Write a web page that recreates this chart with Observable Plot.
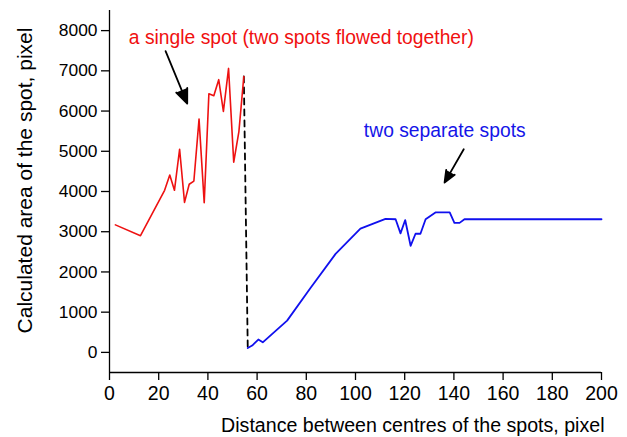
<!DOCTYPE html>
<html>
<head>
<meta charset="utf-8">
<script src="https://cdn.jsdelivr.net/npm/d3@7"></script>
<script src="https://cdn.jsdelivr.net/npm/@observablehq/plot@0.6"></script>
<style>
  html, body { margin: 0; padding: 0; background: #fff; }
</style>
</head>
<body>
<div id="chart"></div>
<script>
// Red series: a single spot (two spots flowed together)
const redX = [2.4, 12.6, 22.4, 24.5, 26.4, 28.5, 30.5, 32.4, 34.3, 36.4, 38.5, 40.4, 42.4, 44.4, 46.3, 48.4, 50.5, 52.6, 54.6];
const redY = [3170, 2900, 4030, 4410, 4030, 5050, 3730, 4180, 4260, 5800, 3720, 6430, 6380, 6780, 5990, 7060, 4730, 5490, 6860];

// Blue series: two separate spots
const blueX = [56.2, 58.0, 60.5, 62.3, 72.2, 81.7, 91.9, 102.0, 112.2, 116.3, 118.3, 120.2, 122.4, 124.4, 126.4, 128.5, 132.5, 138.3, 140.2, 142.3, 144.3, 200];
const blueY = [110, 170, 320, 250, 790, 1600, 2450, 3075, 3320, 3310, 2960, 3290, 2650, 2950, 2950, 3310, 3480, 3480, 3220, 3220, 3310, 3310];

// Dashed connector
const dashX = [54.6, 56.2];
const dashY = [6860, 110];

// Arrows
const arrowX1 = [22.8, 144.0];
const arrowY1 = [7490, 5050];
const arrowX2 = [31.6, 136.2];
const arrowY2 = [6185, 4220];

// Annotations
const noteText = ["a single spot (two spots flowed together)", "two separate spots"];
const noteX = [7.85, 103.4];
const noteY = [7830, 5511];
const noteColor = ["#f01010", "#1515e8"];

// Ticks and titles
const xTicks = [0, 20, 40, 60, 80, 100, 120, 140, 160, 180, 200];
const yTicks = [0, 1000, 2000, 3000, 4000, 5000, 6000, 7000, 8000];
const xTitle = "Distance between centres of the spots, pixel";
const yTitle = "Calculated area of the spot, pixel";

const red = redX.map((x, i) => ({x, y: redY[i]}));
const blue = blueX.map((x, i) => ({x, y: blueY[i]}));
const dash = dashX.map((x, i) => ({x, y: dashY[i]}));
const arrows = arrowX1.map((x1, i) => ({x1, y1: arrowY1[i], x2: arrowX2[i], y2: arrowY2[i]}));
const notes = noteText.map((t, i) => ({t, x: noteX[i], y: noteY[i], c: noteColor[i]}));

const chart = Plot.plot({
  width: 627,
  height: 437,
  marginLeft: 109,
  marginRight: 26,
  marginTop: 10,
  marginBottom: 65,
  style: {fontFamily: "'Liberation Sans', Arial, sans-serif", color: "#000", background: "#fff"},
  x: {domain: [0, 200]},
  y: {domain: [-500, 8500]},
  marks: [
    Plot.ruleX([0], {stroke: "#000", strokeWidth: 1.3}),
    Plot.ruleY([-500], {stroke: "#000", strokeWidth: 1.3}),
    Plot.axisX({ticks: xTicks, tickSize: 8, tickPadding: 6, fontSize: 19.5, tickFormat: d3.format("d"), label: null, strokeWidth: 1.3}),
    Plot.axisY({ticks: yTicks, tickSize: 8, tickPadding: 4, fontSize: 17.4, tickFormat: d3.format("d"), label: null, strokeWidth: 1.3}),
    Plot.text([xTitle], {frameAnchor: "bottom-right", textAnchor: "end", lineAnchor: "middle", dx: 3, dy: 53, fontSize: 19.6, fill: "#000"}),
    Plot.text([yTitle], {frameAnchor: "left", textAnchor: "middle", lineAnchor: "middle", rotate: -90, dx: -84, dy: -11, fontSize: 21, fill: "#000"}),
    Plot.line(dash, {x: "x", y: "y", stroke: "#000", strokeWidth: 1.8, strokeDasharray: "6,5"}),
    Plot.line(red, {x: "x", y: "y", stroke: "#ee1111", strokeWidth: 1.6}),
    Plot.line(blue, {x: "x", y: "y", stroke: "#1010ee", strokeWidth: 1.8}),
    Plot.arrow(arrows, {x1: "x1", y1: "y1", x2: "x2", y2: "y2", stroke: "#000", strokeWidth: 1.8, headLength: 13, headAngle: 45}),
    Plot.text(notes, {x: "x", y: "y", text: "t", fill: "c", textAnchor: "start", fontSize: 19.3})
  ]
});
// fill the arrow heads (closed implicitly by SVG fill rules)
d3.select(chart).selectAll('g[aria-label="arrow"] path').attr("fill", "#000");
document.getElementById("chart").appendChild(chart);
</script>
</body>
</html>
